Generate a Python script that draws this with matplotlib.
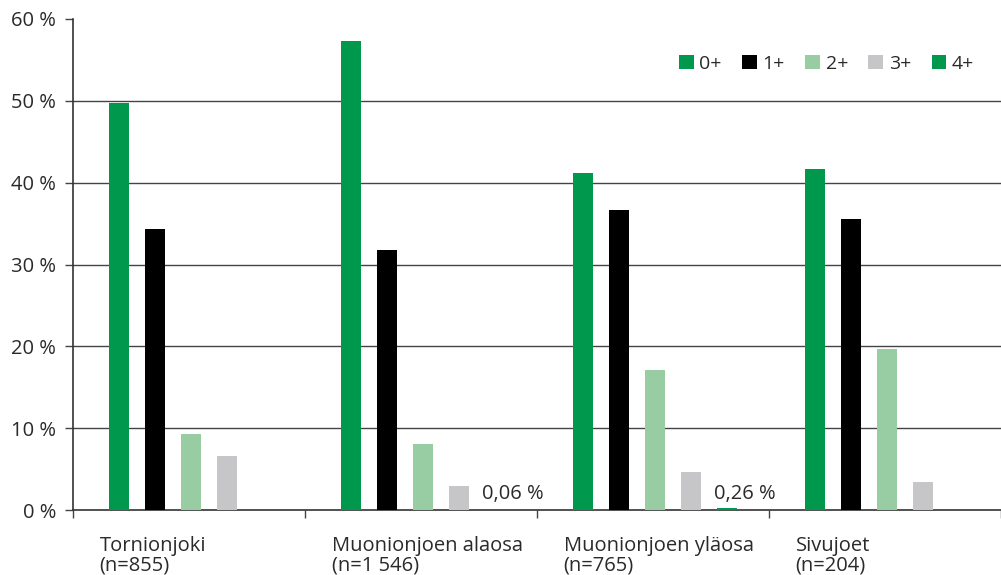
import matplotlib
matplotlib.use("Agg")
import matplotlib.pyplot as plt
import matplotlib.transforms as mtransforms
from matplotlib.patches import Patch

plt.rcParams['font.family'] = ['Open Sans', 'DejaVu Sans']

categories = ["Tornionjoki\n(n=855)", "Muonionjoen alaosa\n(n=1 546)",
              "Muonionjoen yläosa\n(n=765)", "Sivujoet\n(n=204)"]
series_names = ["0+", "1+", "2+", "3+", "4+"]
values = {
    "0+": [49.7, 57.3, 41.2, 41.7],
    "1+": [34.3, 31.8, 36.7, 35.5],
    "2+": [9.3, 8.1, 17.1, 19.7],
    "3+": [6.6, 2.9, 4.6, 3.4],
    "4+": [0.0, 0.06, 0.26, 0.0],
}
annotations = {1: "0,06 %", 2: "0,26 %"}  # group index -> label for 4+
yticks = [0, 10, 20, 30, 40, 50, 60]
ytick_labels = ["0 %", "10 %", "20 %", "30 %", "40 %", "50 %", "60 %"]

colors = ["#00984D", "#000000", "#98CDA4", "#C6C6C8", "#00984D"]
text_color = '#2a2a2a'

fig = plt.figure(figsize=(10.01, 5.75), dpi=100)
ax = fig.add_axes([73/1001, 1 - 510/575, 1 - 73/1001, (510 - 19)/575])

spacing = 36/232
width = 20/232
for k, name in enumerate(series_names):
    xs = [i + 0.51 + (k - 2) * spacing for i in range(len(categories))]
    ax.bar(xs, values[name], width=width, color=colors[k], zorder=3, linewidth=0)

for gi, txt in annotations.items():
    x = gi + 0.51 + 2 * spacing + 0.075
    ax.text(x, 0.7, txt, ha='center', va='bottom', fontsize=14.5, color=text_color)

ax.set_xlim(0, len(categories))
ax.set_ylim(0, 60)
ax.set_yticks(yticks)
ax.set_yticklabels(ytick_labels, fontsize=14.5, color=text_color)
for y in yticks[1:-1]:
    ax.axhline(y, color='#444444', lw=1.0, zorder=1)

ax.set_xticks(range(len(categories) + 1))
ax.set_xticklabels([])
ax.tick_params(axis='x', direction='out', length=6, color='#444444', width=1)
ax.tick_params(axis='y', direction='out', length=6, color='#444444', width=1, pad=6)

for s in ['top', 'right']:
    ax.spines[s].set_visible(False)
for s in ['left', 'bottom']:
    ax.spines[s].set_color('#333333')
    ax.spines[s].set_linewidth(1.2)

trans = mtransforms.blended_transform_factory(ax.transData, ax.transAxes)
for i, cat in enumerate(categories):
    ax.text(i + 0.115, -0.053, cat, transform=trans, ha='left', va='top',
            fontsize=14.5, color=text_color, linespacing=0.98)

handles = [Patch(facecolor=c, edgecolor='none') for c in colors]
leg = ax.legend(handles, series_names, loc='upper right', bbox_to_anchor=(0.99, 0.962),
                ncol=5, frameon=False, fontsize=14, handlelength=0.75, handleheight=0.75,
                handletextpad=0.3, columnspacing=1.05)
for t in leg.get_texts():
    t.set_color(text_color)

fig.savefig("out.png", dpi=100)
